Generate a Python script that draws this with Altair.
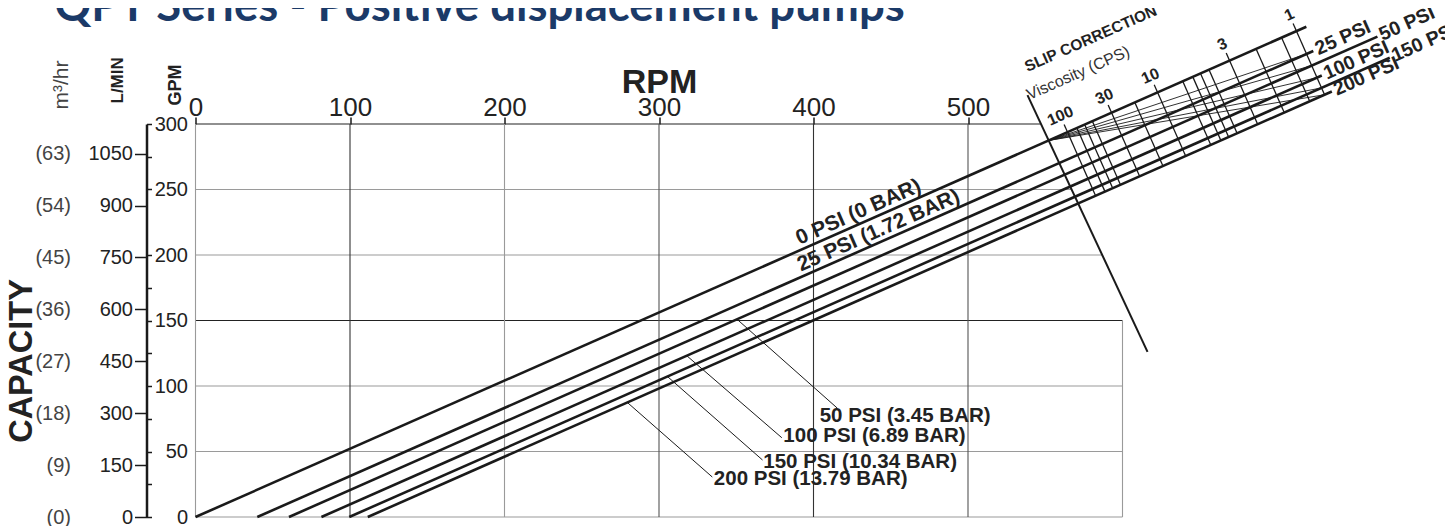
import math
import altair as alt
import pandas as pd

# ---------------- values ----------------
rpm_labels = [0, 100, 200, 300, 400, 500]
gpm_tick_values = [0, 25, 50, 75, 100, 125, 150, 175, 200, 250, 275, 300]
lmin_values = [0, 150, 300, 450, 600, 750, 900, 1050]
m3hr_values = [0, 9, 18, 27, 36, 45, 54, 63]

grid_h_gpm = [0, 50, 100, 150, 200, 250, 300]
grid_h_end_rpm = [600, 600, 600, 600, 587, 567, 547]
grid_h_color = ["#9a9a9a", "#9a9a9a", "#9a9a9a", "#222222", "#9a9a9a", "#9a9a9a", "#222222"]
grid_v_rpm = [0, 100, 200, 300, 400, 500, 600]
grid_v_top_gpm = [300, 300, 300, 300, 300, 300, 150]
grid_v_color = ["#9a9a9a", "#333333", "#9a9a9a", "#555555", "#333333", "#555555", "#9a9a9a"]

pressure_names = ["0 PSI", "25 PSI", "50 PSI", "100 PSI", "150 PSI", "200 PSI"]
line_start_rpm = [0, 40, 60.5, 81.5, 99.5, 111.5]
line_end_rpm = [719, 723.5, 765, 729, 773, 735.5]
flow_slope = 0.5205  # GPM per RPM, common to all pressure lines

on_line_labels = ["0 PSI (0 BAR)", "25 PSI (1.72 BAR)"]
on_line_index = [0, 1]
on_line_rpm = [432, 445]

leader_labels = ["50 PSI (3.45 BAR)", "100 PSI (6.89 BAR)", "150 PSI (10.34 BAR)", "200 PSI (13.79 BAR)"]
leader_index = [2, 3, 4, 5]
leader_from_rpm = [350.5, 318, 305.5, 279.5]
leader_to_rpm = [415.5, 379.5, 367, 334.5]
leader_to_gpm = [83, 60.5, 43.5, 30.5]
leader_text_rpm = [404, 380.5, 367.5, 335.5]
leader_text_gpm = [77, 61.5, 42, 29]

# slip-correction nomogram
visc_labels = ["100", "30", "10", "3", "1"]
visc_label_rpm = [564.4, 592.9, 622.7, 669.3, 712.6]
visc_minor_rpm = [570.5, 575.5, 580.5, 608, 639, 645.5, 650.5, 656, 686.5, 703]
diag_rpm = [538.5, 616.2]
diag_gpm = [322.1, 126.0]
end_label_index = [1, 2, 3, 4, 5]

title_text = "QPT Series - Positive displacement pumps"

# ---------------- layout constants ----------------
W, H = 927, 393
SX = W / 600.0
SY = H / 300.0
FONT = "Liberation Sans"
INK = "#1a1a1a"

m = flow_slope * SY / SX
norm = math.sqrt(1 + m * m)
gap_px = flow_slope * line_start_rpm[-1] * SY
D = gap_px / norm
dR = D * m / norm / SX
dG = -D / norm / SY
ang = 360 - math.degrees(math.atan(m))


def gpm_on(i, r):
    return flow_slope * (r - line_start_rpm[i])


xscale = alt.Scale(domain=[0, 600], nice=False, zero=False)
yscale = alt.Scale(domain=[0, 300], nice=False, zero=False)
xaxis = alt.Axis(orient="top", values=rpm_labels, format="d", grid=False, domain=False,
                 tickSize=7, tickWidth=1.5, tickColor=INK, labelFont=FONT, labelFontSize=26,
                 labelColor="#222", labelPadding=2, labelBaseline="alphabetic", labelFlush=False,
                 title="RPM", titleFont=FONT, titleFontSize=34, titleFontWeight="bold",
                 titleColor="#222", titlePadding=2, titleBaseline="alphabetic")
yaxis = alt.Axis(orient="right", offset=-(W + 49), values=gpm_tick_values,
                 labelExpr="datum.value % 50 == 0 ? datum.label : ''", grid=False,
                 domain=True, domainColor=INK, domainWidth=2.5, tickSize=5, tickWidth=1.5,
                 tickColor=INK, labelAlign="right", labelBaseline="middle", labelPadding=36,
                 labelFont=FONT, labelFontSize=20, labelColor="#222",
                 title="GPM", titleAngle=270, titleX=29, titleY=-19, titleAlign="left",
                 titleBaseline="middle", titleFont=FONT, titleFontSize=18, titleFontWeight="bold",
                 titleColor="#222")


def X(f):
    return alt.X(f, type="quantitative", scale=xscale, axis=xaxis)


def Y(f):
    return alt.Y(f, type="quantitative", scale=yscale, axis=yaxis)


# ---------------- tables ----------------
grid_h = pd.DataFrame({"g": grid_h_gpm, "r0": [0] * len(grid_h_gpm), "r1": grid_h_end_rpm, "c": grid_h_color})
grid_v = pd.DataFrame({"r": grid_v_rpm, "g0": [0] * len(grid_v_rpm), "g1": grid_v_top_gpm, "c": grid_v_color})

lines = pd.DataFrame({
    "p": pressure_names,
    "r0": line_start_rpm,
    "g0": [0] * 6,
    "r1": line_end_rpm,
    "g1": [gpm_on(i, line_end_rpm[i]) for i in range(6)],
})

# cross ticks (viscosity scale)
ticks = []
for r in visc_label_rpm:
    ticks.append({"r0": r - 0.12 * dR, "g0": flow_slope * r - 0.12 * dG, "r1": r + dR, "g1": flow_slope * r + dG})
for r in visc_minor_rpm:
    ticks.append({"r0": r, "g0": flow_slope * r, "r1": r + dR, "g1": flow_slope * r + dG})
ticks = pd.DataFrame(ticks)

# fan lines from the zero-slip point to the viscosity-1 points
t = (flow_slope * diag_rpm[0] - diag_gpm[0]) / ((diag_gpm[1] - diag_gpm[0]) - flow_slope * (diag_rpm[1] - diag_rpm[0]))
org_r = diag_rpm[0] + t * (diag_rpm[1] - diag_rpm[0])
org_g = diag_gpm[0] + t * (diag_gpm[1] - diag_gpm[0])
r1 = visc_label_rpm[-1]
fan = []
for i in range(1, 6):
    u = line_start_rpm[i] / line_start_rpm[-1]
    fan.append({"r0": org_r, "g0": org_g, "r1": r1 + u * dR, "g1": flow_slope * r1 + u * dG})
fan = pd.DataFrame(fan)

diag = pd.DataFrame({"r0": [diag_rpm[0]], "g0": [diag_gpm[0]], "r1": [diag_rpm[1]], "g1": [diag_gpm[1]]})

leaders = pd.DataFrame({
    "r0": leader_from_rpm,
    "g0": [gpm_on(i, r) for i, r in zip(leader_index, leader_from_rpm)],
    "r1": leader_to_rpm,
    "g1": leader_to_gpm,
})

on_line = pd.DataFrame({
    "t": on_line_labels,
    "r": on_line_rpm,
    "g": [gpm_on(i, r) for i, r in zip(on_line_index, on_line_rpm)],
})
leader_text = pd.DataFrame({"t": leader_labels, "r": leader_text_rpm, "g": leader_text_gpm})
visc_text = pd.DataFrame({
    "t": visc_labels,
    "r": [r - 0.14 * dR for r in visc_label_rpm],
    "g": [flow_slope * r - 0.14 * dG for r in visc_label_rpm],
})
end_text = pd.DataFrame({
    "t": [pressure_names[i] for i in end_label_index],
    "r": [line_end_rpm[i] for i in end_label_index],
    "g": [gpm_on(i, line_end_rpm[i]) for i in end_label_index],
})
slip_title = pd.DataFrame({"t": ["SLIP CORRECTION"], "r": [538.5], "g": [339.7]})
slip_sub = pd.DataFrame({"t": ["Viscosity (CPS)"], "r": [539.8], "g": [318.3]})
capacity = pd.DataFrame({"t": ["CAPACITY"], "r": [-112.6], "g": [119.1]})
title_df = pd.DataFrame({"t": [title_text], "r": [-91.3], "g": [379]})


def seg(df, width, color=INK):
    return alt.Chart(df).mark_rule(strokeWidth=width, color=color, strokeCap="butt").encode(
        x=X("r0"), y=Y("g0"), x2="r1", y2="g1")


gh = alt.Chart(grid_h).mark_rule(strokeWidth=1.1).encode(
    x=X("r0"), x2="r1", y=Y("g"), color=alt.Color("c:N", scale=None))
gv = alt.Chart(grid_v).mark_rule(strokeWidth=1.1).encode(
    x=X("r"), y=Y("g0"), y2="g1", color=alt.Color("c:N", scale=None))


def txt(df, **kw):
    base = dict(font=FONT, color="#222")
    base.update(kw)
    return alt.Chart(df).mark_text(**base).encode(x=X("r"), y=Y("g"), text="t:N")


main = alt.layer(
    gh, gv,
    seg(leaders, 1),
    seg(ticks, 1.3),
    seg(fan, 0.9),
    seg(diag, 2),
    seg(lines, 2.6),
    txt(on_line, fontSize=21, fontWeight="bold", angle=ang, align="center", baseline="bottom", dy=-1),
    txt(leader_text, fontSize=20.5, fontWeight="bold", align="left", baseline="middle"),
    txt(visc_text, fontSize=16, fontWeight="bold", angle=ang, align="center", baseline="bottom"),
    txt(end_text, fontSize=19.5, fontWeight="bold", angle=ang, align="left", baseline="middle", dx=3),
    txt(slip_title, fontSize=15.5, fontWeight="bold", angle=ang, align="left", baseline="alphabetic"),
    txt(slip_sub, fontSize=16, angle=ang, align="left", baseline="alphabetic", color="#333"),
    txt(capacity, fontSize=32.5, fontWeight="bold", angle=270, align="center", baseline="middle"),
    txt(title_df, font="Lato", fontSize=45.5, fontWeight="bold", align="left", baseline="alphabetic",
        color="#1b3a68"),
)

lmin_layer = alt.Chart(pd.DataFrame({"v": lmin_values})).mark_point(opacity=0).encode(
    y=alt.Y("v:Q", scale=alt.Scale(domain=[0, 300 * 3.785411784], nice=False, zero=False),
            axis=alt.Axis(orient="left", offset=49, values=lmin_values, format="d", grid=False,
                          domain=False, tickSize=12, tickWidth=1.5, tickColor=INK,
                          labelPadding=2, labelFont=FONT, labelFontSize=20, labelColor="#222",
                          title="L/MIN", titleAngle=270, titleX=-29, titleY=-21, titleAlign="left",
                          titleBaseline="middle", titleFont=FONT, titleFontSize=17,
                          titleFontWeight="bold", titleColor="#222")))

m3_layer = alt.Chart(pd.DataFrame({"v": m3hr_values})).mark_point(opacity=0).encode(
    y=alt.Y("v:Q", scale=alt.Scale(domain=[0, 300 * 3.785411784 * 0.06], nice=False, zero=False),
            axis=alt.Axis(orient="left", offset=125, values=m3hr_values, format="d", grid=False,
                          domain=False, ticks=False, labelPadding=0,
                          labelExpr="'(' + datum.label + ')'",
                          labelFont=FONT, labelFontSize=20, labelColor="#444",
                          title="m³/hr", titleAngle=270, titleX=-9, titleY=-15, titleAlign="left",
                          titleBaseline="middle", titleFont=FONT, titleFontSize=21,
                          titleFontWeight="normal", titleColor="#444")))

chart = alt.layer(main, lmin_layer, m3_layer).resolve_scale(y="independent").properties(
    width=W, height=H,
    autosize=alt.AutoSizeParams(type="none"),
    padding={"left": 187.5, "top": 116, "right": 322.5, "bottom": 9},
    background="white",
).configure_view(stroke=None)

chart.save("out.html", embed_options={"renderer": "svg", "actions": False})
